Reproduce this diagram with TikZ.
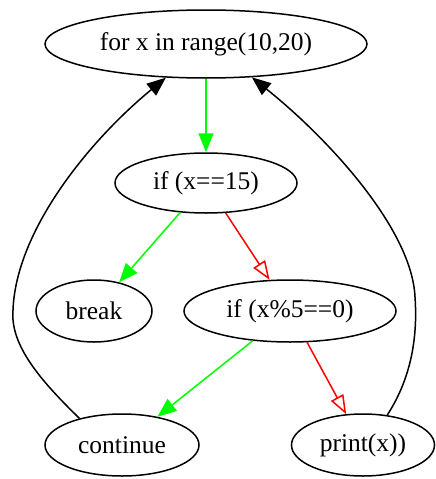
\documentclass[tikz,border=0pt]{standalone}
\usepackage{fontspec}
\setmainfont{Liberation Serif}
\usepackage{tikz}
\usetikzlibrary{shapes.geometric, arrows.meta}

\begin{document}
\begin{tikzpicture}[x=1pt, y=-1pt, line width=1.5pt,
    state/.style={ellipse, draw=black, inner sep=0pt, font=\fontsize{25.5}{30}\selectfont},
    yes/.style={draw=green, -{Triangle[length=19pt, width=15pt]}, fill=green},
    no/.style={draw=red, -{Triangle[open, length=19pt, width=14pt]}},
    back/.style={draw=black, -{Triangle[length=19pt, width=15pt]}}]

\useasboundingbox (0, 0) rectangle (436, 479);

\draw (206, 44) node[state, minimum width=322pt, minimum height=68pt] (for) {for x in range(10,20)};
\draw (206, 183) node[state, minimum width=182pt, minimum height=60pt] (if15) {if (x==15)};
\draw (94, 311) node[state, minimum width=116pt, minimum height=62pt] (brk) {break};
\draw (290, 311) node[state, minimum width=212pt, minimum height=62pt] (if5) {if (x\%5==0)};
\draw (122, 445) node[state, minimum width=154pt, minimum height=62pt] (cont) {continue};
\draw (363, 445) node[state, minimum width=143pt, minimum height=62pt] (prnt) {print(x))};

\draw[yes] (for) -- (if15);
\draw[yes] (if15) -- (brk);
\draw[no] (if15) -- (if5);
\draw[yes] (if5) -- (cont);
\draw[no] (if5) -- (prnt);

\draw[back] (cont.148) .. controls (40, 380) and (10, 345) .. (13, 310)
    .. controls (16, 230) and (90, 140) .. (for.220);
\draw[back] (prnt.51) .. controls (410, 380) and (418, 340) .. (415, 297)
    .. controls (412, 230) and (330, 140) .. (for.324);
\end{tikzpicture}
\end{document}
